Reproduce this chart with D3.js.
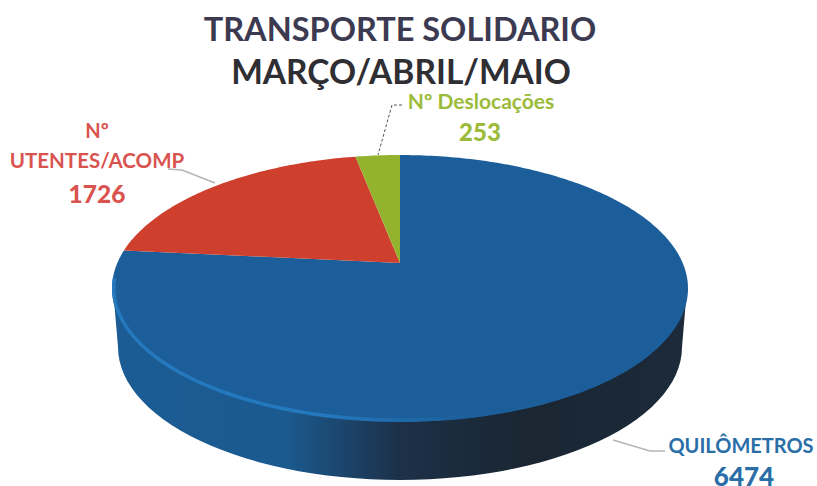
<!DOCTYPE html>
<html>
<head>
<meta charset="utf-8">
<script src="https://cdn.jsdelivr.net/npm/d3@7"></script>
<style>
  html, body { margin: 0; padding: 0; background: #fff; }
  svg { display: block; }
  text { font-family: Lato, "Open Sans", sans-serif; text-anchor: middle; dominant-baseline: central; }
</style>
</head>
<body>
<svg id="chart" width="817" height="486"></svg>
<script>
const titleLines = ["TRANSPORTE SOLIDARIO", "MARÇO/ABRIL/MAIO"];
const categories = ["QUILÔMETROS", "UTENTES/ACOMP", "Nº Deslocações"];
const values = [6474, 1726, 253];
const sliceColors = ["#1b5e9a", "#cf3f2e", "#93b32f"];

const width = 817, height = 486;
const svg = d3.select("#chart");

// Tilted disc: unit circle seen through a perspective, so the apex sits above the ellipse middle
const apex = [400, 263];
const tilt = 0.191, scaleX = 282.7, scaleY = 128.6;
function project(angle) {
  const u = Math.sin(angle), v = -Math.cos(angle);
  const w = 1 - tilt * v;
  return [apex[0] + scaleX * u / w, apex[1] + scaleY * v / w];
}
function rim(a0, a1) {
  const n = Math.max(2, Math.ceil((a1 - a0) * 60));
  return d3.range(n + 1).map(i => project(a0 + (a1 - a0) * i / n));
}

const line = d3.line();
const pie = d3.pie().sort(null);
const arcs = pie(values);

const defs = svg.append("defs");
const sideGrad = defs.append("linearGradient").attr("id", "side");
sideGrad.append("stop").attr("offset", "0%").attr("stop-color", "#1b5c94");
sideGrad.append("stop").attr("offset", "30%").attr("stop-color", "#1b5a90");
sideGrad.append("stop").attr("offset", "50%").attr("stop-color", "#1c3048");
sideGrad.append("stop").attr("offset", "72%").attr("stop-color", "#1a2632");
sideGrad.append("stop").attr("offset", "100%").attr("stop-color", "#1c2a3a");

const glowGrad = defs.append("linearGradient").attr("id", "glow")
  .attr("gradientUnits", "userSpaceOnUse")
  .attr("x1", 112).attr("x2", 470).attr("y1", 0).attr("y2", 0);
glowGrad.append("stop").attr("offset", "0%").attr("stop-color", "#2478bd");
glowGrad.append("stop").attr("offset", "60%").attr("stop-color", "#2478bd");
glowGrad.append("stop").attr("offset", "100%").attr("stop-color", "#1b5e9a");

// side wall: a slightly narrower ellipse further down, joined to the top face
const bottom = { cx: 400, cy: 347, rx: 282, ry: 133 };
const wall = d3.range(0, 181, 3).map(d => {
  const t = d * Math.PI / 180;
  return [bottom.cx + bottom.rx * Math.cos(t), bottom.cy + bottom.ry * Math.sin(t)];
});
wall.push([113, 288], [687, 288]);
svg.append("path")
  .attr("d", line(wall) + "Z")
  .attr("fill", "url(#side)");

// top face slices
svg.selectAll("path.slice")
  .data(arcs)
  .enter()
  .append("path")
  .attr("class", "slice")
  .attr("d", d => line([apex, ...rim(d.startAngle, d.endAngle)]) + "Z")
  .attr("fill", (d, i) => sliceColors[i]);

// bright rim on the near left edge, kept inside the disc outline
const blue = arcs[0];
const blueSpan = blue.endAngle - blue.startAngle;
const glowPts = rim(blue.startAngle + blueSpan * 0.47, blue.startAngle + blueSpan * 0.955)
  .map(p => [p[0] + (apex[0] - p[0]) * 0.006, p[1] + (apex[1] - p[1]) * 0.012]);
svg.append("path")
  .attr("d", line(glowPts))
  .attr("fill", "none")
  .attr("stroke", "url(#glow)")
  .attr("stroke-width", 3.5);

// leader lines
const leaders = [
  { pts: [[402, 105], [392, 105], [378, 155]], color: "#555", dash: "3,2", w: 1 },
  { pts: [[168, 169], [182, 170], [215, 183]], color: "#b5b5b5", dash: null, w: 1.5 },
  { pts: [[613, 440], [650, 451], [665, 451]], color: "#b5b5b5", dash: null, w: 1.5 }
];
svg.selectAll("path.leader")
  .data(leaders)
  .enter()
  .append("path")
  .attr("class", "leader")
  .attr("d", d => line(d.pts))
  .attr("fill", "none")
  .attr("stroke", d => d.color)
  .attr("stroke-width", d => d.w)
  .attr("stroke-dasharray", d => d.dash);

// title
svg.append("text").attr("x", 400).attr("y", 28)
  .attr("font-size", 32.5).attr("font-weight", 700).attr("fill", "#3c3a50")
  .text(titleLines[0]);
svg.append("text").attr("x", 401).attr("y", 71)
  .attr("font-size", 33.5).attr("font-weight", 700).attr("fill", "#2e2e33")
  .text(titleLines[1]);

// data labels
const labelRed = "#d9534f", labelGreen = "#9cbb3a", labelBlue = "#2a6ea8";
function label(x, y, str, size, color, bold) {
  svg.append("text").attr("x", x).attr("y", y)
    .attr("font-size", size).attr("font-weight", bold ? 900 : 700)
    .attr("fill", color).text(str);
}
label(97, 130, "Nº", 20, labelRed);
label(97, 160, categories[1], 20.5, labelRed);
label(97, 193, values[1], 24.5, labelRed, true);
label(481, 100, categories[2], 21, labelGreen);
label(480, 131, values[2], 24, labelGreen, true);
label(741, 445, categories[0], 20, labelBlue);
label(744, 476, values[0], 26, labelBlue, true);
</script>
</body>
</html>
